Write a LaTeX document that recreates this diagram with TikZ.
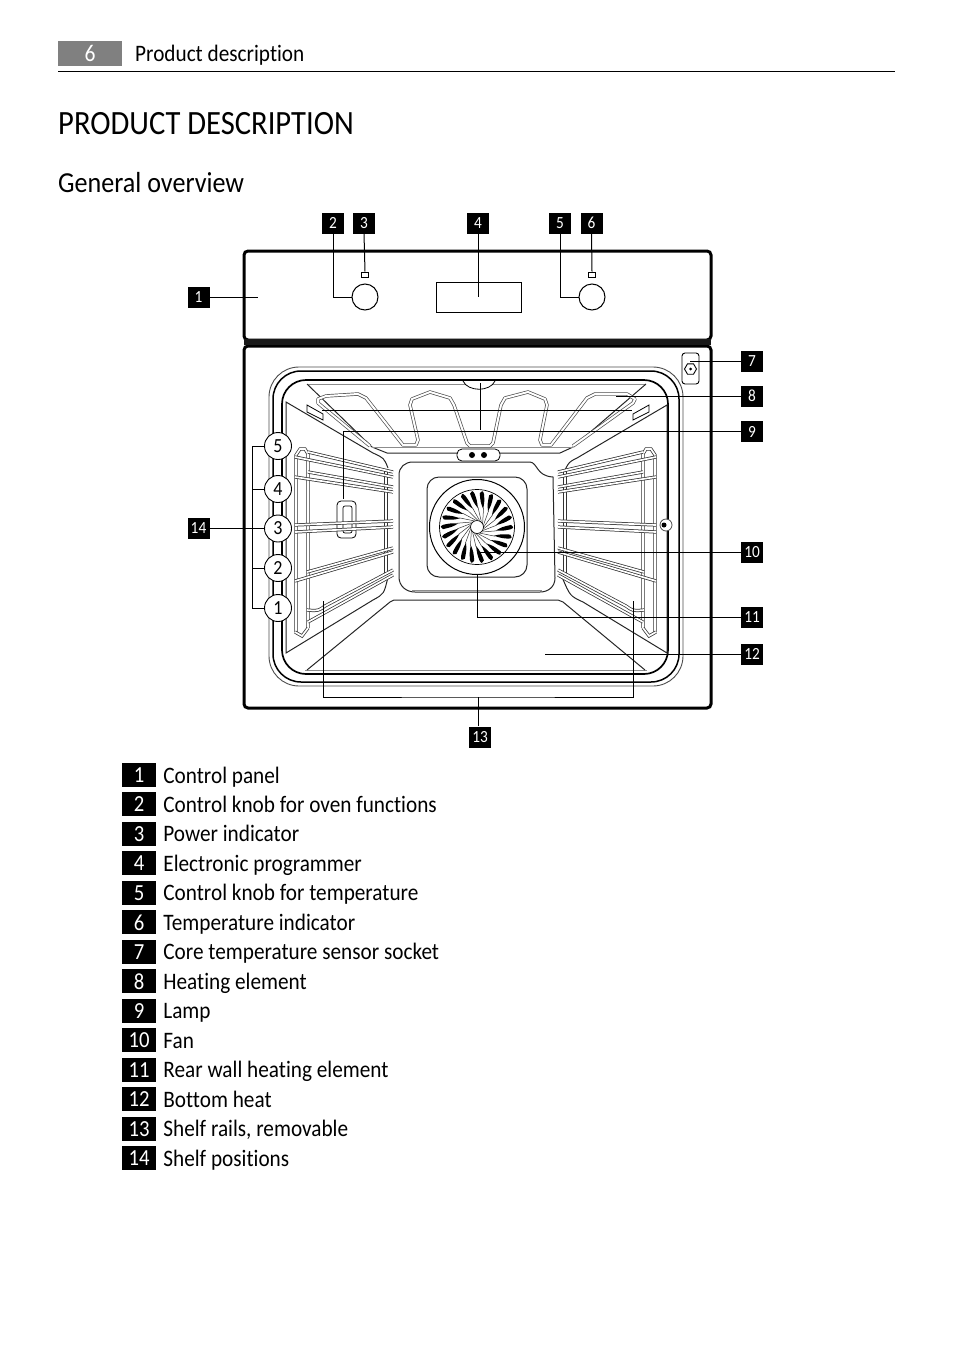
\documentclass[tikz,border=0pt]{standalone}
\usepackage{fontspec}
\setmainfont[FakeStretch=0.9,Ligatures=NoCommon]{Carlito}
\usepackage{xcolor}
\usetikzlibrary{positioning,calc,shapes.geometric}

\definecolor{tabgray}{gray}{0.5}
\tikzset{
    tag/.style={fill=black, text=white, minimum width=22pt, minimum height=21pt, inner sep=0pt, font=\fontsize{17}{17}\selectfont},
    keybox/.style={fill=black, text=white, minimum width=34pt, minimum height=24pt, inner sep=0pt, font=\fontsize{23}{23}\selectfont},
    keytext/.style={inner sep=0pt, text height=21pt, text depth=5pt, font=\fontsize{23.6}{24}\selectfont},
    shelf/.style={circle, draw=black, line width=0.9pt, fill=white, minimum size=27pt, inner sep=0pt, font=\fontsize{20}{20}\selectfont},
    lead/.style={line width=1pt, black},
    wall/.style={line width=1pt, black!85},
    pale/.style={line width=1pt, black!45},
    tube/.style={draw=black!70, double=white, double distance=2pt, line width=0.7pt, line join=round},
    bar/.style={draw=black!80, double=white, double distance=1.7pt, line width=0.75pt}
}

\newcommand{\ovenrails}{
    \draw[bar] (296,632) -- (296,455) -- (300,449) -- (305,449) -- (308,454) -- (308,628);
    \draw[bar] (386,470) -- (386,575);
    \draw[bar] (295,632) -- (302,636) -- (308,628);
    \draw[bar] (308,452) -- (393,472);
    \draw[bar] (295,457) -- (393,477);
    \draw[bar] (308,472) -- (393,487);
    \draw[bar] (295,477) -- (393,492);
    \draw[bar] (295,525) -- (393,521);
    \draw[bar] (295,532) -- (393,527);
    \draw[bar] (307,572) -- (393,548);
    \draw[bar] (295,581) -- (393,552);
    \draw[bar] (307,610) .. controls (318,611) .. (325,606) -- (393,570);
    \draw[bar] (308,622) -- (393,575);
}

\begin{document}
\begin{tikzpicture}[x=1pt, y=-1pt]
    \useasboundingbox (0,0) rectangle (954,1352);

    % page head
    \node[fill=tabgray, text=white, minimum width=64pt, minimum height=25pt, inner sep=0pt, font=\fontsize{24}{24}\selectfont] (pagetab) at (90,53.5) {6};
    \node[anchor=base west, inner sep=0pt, font=\fontsize{23.6}{24}\selectfont] (headtext) at (135,61.5) {Product description};
    \draw[line width=1pt] (58,71) -- (895,71);
    \node[anchor=base west, inner sep=0pt, font=\fontsize{34}{34}\selectfont] (title) at (58,134) {PRODUCT DESCRIPTION};
    \node[anchor=base west, inner sep=0pt, font=\fontsize{29}{29}\selectfont] (subtitle) at (58,192) {General overview};

    % control panel and door
    \draw[line width=3pt, rounded corners=4pt] (244,251) rectangle (711,340);
    \draw[line width=3pt, rounded corners=4pt] (244,346) rectangle (711,708);
    \fill[black!90] (244,339) rectangle (711,345);
    \node[draw, line width=1pt, circle, minimum size=26pt, inner sep=0pt] (knobA) at (365,297) {};
    \node[draw, line width=1pt, circle, minimum size=26pt, inner sep=0pt] (knobB) at (592,297) {};
    \node[draw, line width=1pt, minimum width=7pt, minimum height=5pt, inner sep=0pt] (powerlamp) at (365,274.5) {};
    \node[draw, line width=1pt, minimum width=7pt, minimum height=5pt, inner sep=0pt] (templamp) at (592,274.5) {};
    \node[draw, line width=1pt, minimum width=85pt, minimum height=30pt, inner sep=0pt] (display) at (478.5,297) {};

    % door seal
    \draw[line width=0.9pt, black!70, rounded corners=30pt] (269,367) rectangle (683,686);
    \draw[line width=1.5pt, rounded corners=28pt] (273,371) rectangle (679,682);
    \draw[line width=1.7pt, rounded corners=24pt] (282,380) rectangle (668,674);
    \draw[pale] (305,670) -- (647,670);

    % ceiling and floor
    \draw[pale] (307,384) -- (646,384);
    \draw[wall] (307,384) -- (372,447) -- (387,453) -- (560,453) -- (573,447) -- (646,384);
    \draw[pale] (372,447) -- (573,447);
    \draw[wall] (307,670) -- (390,602) -- (394,600) -- (558,600) -- (563,602) -- (645,670);

    % side walls
    \draw[wall] (388,468) .. controls (384,458) .. (373,453) -- (286,402) -- (286,653) -- (373,600) .. controls (384,594) .. (388,577);
    \draw[wall] (565,470) .. controls (569,462) .. (577,458) -- (667,405) -- (667,653) -- (583,602) .. controls (570,596) .. (562,577);

    % rear wall and fan
    \draw[wall] (413,462) -- (530,462) .. controls (538,463) and (536,476) .. (553,477) -- (555,578) .. controls (555,587) and (548,592) .. (540,592) -- (415,592) .. controls (406,592) and (399,586) .. (399,577) -- (399,475) .. controls (399,467) and (405,462) .. (413,462);
    \draw[pale] (412,590) -- (542,590);
    \draw[wall, rounded corners=12pt] (427,477) rectangle (527,577);
    \node[draw, line width=1pt, circle, minimum size=95pt, inner sep=0pt] (fanrim) at (477,527) {};
    \node[draw, line width=0.7pt, circle, minimum size=75pt, inner sep=0pt] (fanring) at (477,527) {};
    \foreach \a in {0,16.36,...,350}{
        \fill[black] ($(477,527)+(\a-3.5:34)$) .. controls ($(477,527)+(\a+1:37)$) .. ($(477,527)+(\a+4:33.5)$) .. controls ($(477,527)+(\a+8:27)$) .. ($(477,527)+(\a+11:19)$) .. controls ($(477,527)+(\a:25)$) .. cycle;
        \draw[line width=0.5pt, black!80] ($(477,527)+(\a+11:20)$) .. controls ($(477,527)+(\a+18:13)$) .. ($(477,527)+(\a+46:7)$);
    }
    \node[draw, fill=white, line width=0.7pt, circle, minimum size=13pt, inner sep=0pt] (fanhub) at (477,527) {};

    % heating element
    \draw[tube] (370,446) -- (318,403) -- (318,399) -- (326,396) -- (358,394) -- (366,398) -- (403,445) -- (416,445) -- (418,440) -- (410,405) -- (412,399) -- (430,392) -- (450,398) -- (454,405) -- (467,443) -- (470,446) -- (490,446) -- (493,443) -- (501,405) -- (505,398) -- (528,392) -- (545,399) -- (547,405) -- (540,440) -- (542,445) -- (551,445) -- (587,398) -- (595,394) -- (627,394) -- (635,399) -- (633,403) -- (573,446);
    \draw[fill=white, line width=0.8pt] (463,381) .. controls (468,392) and (490,392) .. (495,381);
    \draw[fill=white, line width=0.8pt, rounded corners=5pt] (457,449) rectangle (500,461);
    \fill[black] (472,455) circle (3pt) (484,455) circle (3pt);

    % wall brackets and lamp
    \draw[line width=0.8pt] (307,405) -- (323,414) -- (323,420) -- (307,412) -- cycle;
    \draw[line width=0.8pt] (633,414) -- (649,405) -- (649,412) -- (633,420) -- cycle;
    \draw[fill=white, line width=0.8pt, rounded corners=4pt] (337,501) rectangle (356,538);
    \draw[line width=0.7pt, rounded corners=2pt] (343,506) rectangle (352,533);

    % shelf rails
    \ovenrails
    \begin{scope}[xshift=951pt, xscale=-1]
        \ovenrails
    \end{scope}

    % sensor socket and right hand stud
    \draw[fill=white, line width=0.9pt, rounded corners=3pt] (682,353) rectangle (699,384);
    \node[draw, line width=0.9pt, regular polygon, regular polygon sides=6, minimum size=12pt, inner sep=0pt] (sensorhex) at (690.5,369) {};
    \fill[black] (690.5,369) circle (1.5pt);
    \draw[fill=white, draw=black!70, line width=0.8pt] (666,525) circle (6pt);
    \fill[black] (664,525) circle (2.5pt);

    % numbered tags
    \node[tag] (t1) at (198.5,297) {1};
    \node[tag] (t2) at (333,223) {2};
    \node[tag] (t3) at (364,223) {3};
    \node[tag] (t4) at (478,223) {4};
    \node[tag] (t5) at (560,223) {5};
    \node[tag] (t6) at (591.5,223) {6};
    \node[tag] (t7) at (752,361.5) {7};
    \node[tag] (t8) at (752,396) {8};
    \node[tag] (t9) at (752,431.5) {9};
    \node[tag] (t10) at (752,552) {10};
    \node[tag] (t11) at (752,617) {11};
    \node[tag] (t12) at (752,654) {12};
    \node[tag] (t13) at (480,737) {13};
    \node[tag] (t14) at (198.5,528.5) {14};

    % shelf positions
    \foreach \n/\y in {5/446,4/489,3/528.5,2/568,1/608}
        \node[shelf] (s\n) at (278,\y) {\n};

    % leaders
    \coordinate (panelend) at (258,297);
    \coordinate (socketend) at (690,361.5);
    \coordinate (elemend) at (616,396);
    \coordinate (lampend) at (343,499);
    \coordinate (fanend) at (477,552);
    \coordinate (floorend) at (545,654);
    \coordinate (railL) at (323,601);
    \coordinate (railR) at (633,601);
    \coordinate (railjoin) at (478,697);
    \coordinate (elemL) at (322,410);
    \coordinate (elemR) at (632,410);
    \coordinate (elemT) at (480,383);
    \coordinate (elemB) at (480,430);
    \coordinate (shelfbar) at (252,528.5);
    \draw[lead] (t1) -- (panelend);
    \draw[lead] (t2.south) |- (knobA.west);
    \draw[lead] (t3.south) -- (powerlamp.north);
    \draw[lead] (t4.south) -- (t4.south |- display.center);
    \draw[lead] (t5.south) |- (knobB.west);
    \draw[lead] (t6.south) -- (templamp.north);
    \draw[lead] (t7) -- (socketend);
    \draw[lead] (t8) -- (elemend);
    \draw[lead] (t9.west) -| (lampend);
    \draw[lead] (elemL) -- (elemR);
    \draw[lead] (elemT) -- (elemB);
    \draw[lead] (t10) -- (fanend);
    \draw[lead] (t11.west) -| (fanrim.south);
    \draw[lead] (t12) -- (floorend);
    \draw[lead] (t13.north -| railjoin) -- (railjoin);
    \draw[lead] (railL) |- (railjoin) -| (railR);
    \draw[lead] (t14) -- (s3);
    \draw[lead] (s5) -| (shelfbar);
    \draw[lead] (s4) -| (shelfbar);
    \draw[lead] (s2) -| (shelfbar);
    \draw[lead] (s1) -| (shelfbar);

    % key
    \foreach \n/\txt [count=\i from 0] in {1/Control panel,2/Control knob for oven functions,3/Power indicator,4/Electronic programmer,5/Control knob for temperature,6/Temperature indicator,7/Core temperature sensor socket,8/Heating element,9/Lamp,10/Fan,11/Rear wall heating element,12/Bottom heat,13/{Shelf rails, removable},14/Shelf positions}{
        \node[keybox] (k\n) at (139,{775+\i*29.48}) {\n};
        \node[keytext, right=7pt of k\n] (d\n) {\txt};
    }
\end{tikzpicture}
\end{document}
